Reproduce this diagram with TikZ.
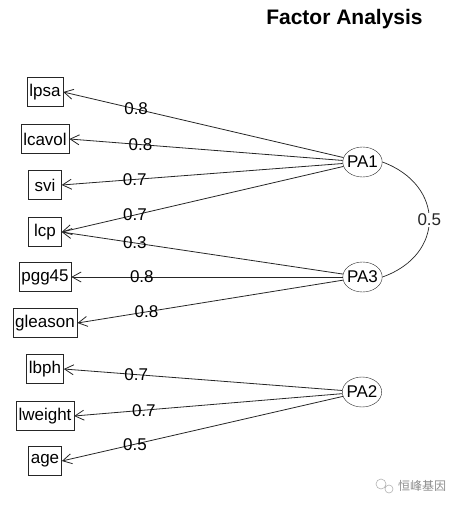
\documentclass[tikz,border=0pt]{standalone}
\usepackage{fontspec}
\setmainfont{Liberation Sans}
\newfontfamily\cjkfont{Noto Sans CJK SC}
\usetikzlibrary{arrows.meta,shapes.geometric}

\begin{document}
\begin{tikzpicture}[x=1pt,y=-1pt,
    var/.style={draw,black!85,text=black,font=\fontsize{17}{17}\selectfont,
      minimum width=33,minimum height=29,inner xsep=2.5,inner ysep=0},
    fac/.style={draw,black!85,text=black,ellipse,font=\fontsize{17}{17}\selectfont,
      minimum height=30,inner xsep=-1.5,inner ysep=0},
    load/.style={draw=black!85,line width=0.8,-{Straight Barb[length=9,width=10]}},
    lab/.style={font=\fontsize{17}{17}\selectfont,inner sep=0}]
  \useasboundingbox (0,0) rectangle (459,507);

  \node (title) at (344.5,19) {\fontsize{21}{21}\selectfont\bfseries Factor Analysis};

  \foreach \name/\y in {lpsa/92,lcavol/139,svi/185,lcp/232,pgg45/277,gleason/323,
                        lbph/369,lweight/416,age/461}
    \node[var] (\name) at (45,\y) {\name};

  \node[fac] (PA1) at (362.5,162) {PA1};
  \node[fac] (PA3) at (362.5,277) {PA3};
  \node[fac] (PA2) at (362,392) {PA2};

  \foreach \f/\v/\w in {PA1/lpsa/0.8,PA1/lcavol/0.8,PA1/svi/0.7,PA1/lcp/0.7,
                        PA3/lcp/0.3,PA3/pgg45/0.8,PA3/gleason/0.8,
                        PA2/lbph/0.7,PA2/lweight/0.7,PA2/age/0.5}
    \draw[load] (\f) -- (\v.east) node[lab,pos=0.74] {\w};

  % correlation between the factors
  \draw[black!85,line width=0.7] (PA1.east) .. controls (445,185) and (445,255) .. (PA3.east)
    node[lab,pos=0.5,fill=white,inner sep=1] (r13) {0.5};

  % watermark
  \draw[black!30,line width=0.6] (381,484) circle (5) (389,489) circle (4);
  \node[text=black!45,font=\cjkfont\fontsize{12}{12}\selectfont] (mark) at (422,486) {恒峰基因};
\end{tikzpicture}
\end{document}
